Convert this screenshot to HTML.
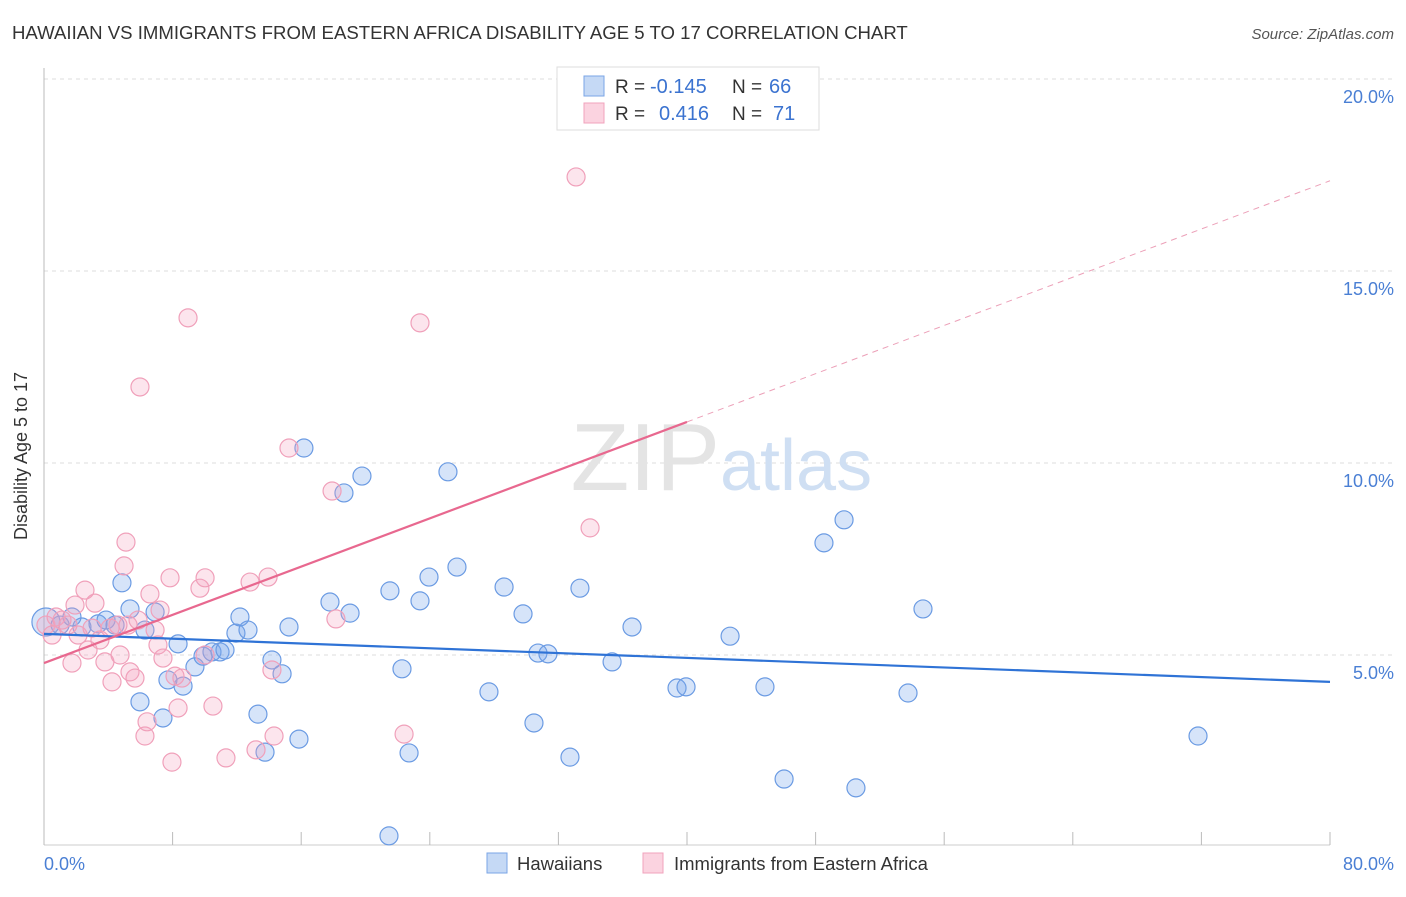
<!DOCTYPE html>
<html><head><meta charset="utf-8"><style>
body{margin:0;background:#fff;font-family:"Liberation Sans",sans-serif;}
svg text{font-family:"Liberation Sans",sans-serif;}
</style></head><body>
<svg width="1406" height="892" viewBox="0 0 1406 892">
<text x="12" y="39" font-size="18.6" fill="#333">HAWAIIAN VS IMMIGRANTS FROM EASTERN AFRICA DISABILITY AGE 5 TO 17 CORRELATION CHART</text>
<text x="1394" y="39" font-size="15" fill="#555" font-style="italic" text-anchor="end">Source: ZipAtlas.com</text>
<g id="grid"></g>
<text x="720" y="490" font-size="96" fill="#e4e4e4" text-anchor="end" font-family="Liberation Serif">ZIP</text>
<text x="720" y="490" font-size="72" fill="#cfdff3">atlas</text>
<line x1="44" y1="68" x2="44" y2="845" stroke="#bbb"/>
<line x1="44" y1="845" x2="1330" y2="845" stroke="#ccc"/>
<g id="xticks"></g>
<g id="points"></g>
<g id="trends"></g>
<text x="27" y="456" font-size="18" fill="#333" text-anchor="middle" transform="rotate(-90 27 456)">Disability Age 5 to 17</text>
<text x="44" y="870" font-size="18" fill="#4a7fd4">0.0%</text>
<text x="1394" y="870" font-size="18" fill="#4a7fd4" text-anchor="end">80.0%</text>
<g>
<rect x="557" y="67" width="262" height="63" fill="#fff" stroke="#ddd"/>
<rect x="584" y="76" width="20" height="20" fill="#c5d9f5" stroke="#7aa5e6"/>
<rect x="584" y="103" width="20" height="20" fill="#fbd3e0" stroke="#f0a3bc"/>
<text x="615" y="93" font-size="19" fill="#333">R =</text>
<text x="650" y="93" font-size="20" fill="#3b73d0">-0.145</text>
<text x="732" y="93" font-size="19" fill="#333">N =</text>
<text x="769" y="93" font-size="20" fill="#3b73d0">66</text>
<text x="615" y="120" font-size="19" fill="#333">R =</text>
<text x="659" y="120" font-size="20" fill="#3b73d0">0.416</text>
<text x="732" y="120" font-size="19" fill="#333">N =</text>
<text x="773" y="120" font-size="20" fill="#3b73d0">71</text>
</g>
<g>
<rect x="487" y="853" width="20" height="20" fill="#c5d9f5" stroke="#7aa5e6"/>
<text x="517" y="870" font-size="18.5" fill="#333">Hawaiians</text>
<rect x="643" y="853" width="20" height="20" fill="#fbd3e0" stroke="#f0a3bc"/>
<text x="674" y="870" font-size="18.5" fill="#333">Immigrants from Eastern Africa</text>
</g>
</svg>
<script>
const blueX=[0.12,1.0,1.74,2.36,3.36,3.86,4.42,4.85,5.35,5.97,6.28,6.91,7.40,7.71,8.34,8.65,9.39,9.89,10.45,10.95,11.26,11.94,12.19,12.69,13.31,13.75,14.18,14.81,15.24,15.86,16.17,17.79,18.66,19.04,19.78,21.46,21.52,22.27,22.71,23.39,23.95,25.13,25.69,27.68,28.62,29.80,30.48,30.73,31.35,32.72,33.34,35.34,36.58,39.38,39.94,42.68,44.85,46.04,48.52,49.77,50.51,53.75,54.68,71.79];
const blueY=[5.86,5.78,5.99,5.73,5.81,5.91,5.78,6.88,6.20,3.78,5.65,6.12,3.36,4.35,5.29,4.19,4.69,4.97,5.08,5.08,5.13,5.57,5.99,5.65,3.46,2.47,4.87,4.51,5.73,2.81,10.39,6.38,9.22,6.09,9.66,0.29,6.67,4.64,2.45,6.41,7.03,9.77,7.29,4.04,6.77,6.07,3.23,5.05,5.03,2.34,6.74,4.82,5.73,4.14,4.17,5.49,4.17,1.77,7.92,8.52,1.54,4.01,6.20,2.89];
const pinkX=[0.12,0.50,0.75,1.12,1.49,1.74,1.93,2.12,2.55,2.74,2.99,3.17,3.48,3.79,4.11,4.23,4.60,4.73,4.98,5.10,5.23,5.35,5.66,5.97,5.85,6.28,6.41,6.59,6.91,7.09,7.22,7.40,7.84,7.96,8.15,8.34,8.58,8.96,9.70,10.02,10.51,10.02,11.32,12.82,13.19,13.94,14.18,14.31,15.24,17.92,18.16,22.40,23.39,33.10,33.97];
const pinkY=[5.78,5.52,5.99,5.91,5.78,4.79,6.30,5.52,6.69,5.13,5.70,6.35,5.39,4.82,5.70,4.30,5.78,5.00,7.32,7.94,5.78,4.56,4.40,11.98,5.91,2.89,3.26,6.59,5.65,5.26,6.17,4.92,7.01,2.21,4.45,3.62,4.40,13.78,6.74,5.00,3.67,7.01,2.32,6.90,2.53,7.03,4.61,2.89,10.39,9.27,5.94,2.94,13.65,17.45,8.31];
const yTicks=[5,10,15,20];
const yTickLabels=["5.0%","10.0%","15.0%","20.0%"];
const xTicks=[0,8,16,24,32,40,48,56,64,72,80];
const blueTrend=[5.55,4.30];
const pinkTrend=[4.79,11.07,17.35];
const NS="http://www.w3.org/2000/svg";
const sx=v=>44+v/80*1286;
const sy=v=>847-v*38.4;
function mk(tag,attrs,parent){const e=document.createElementNS(NS,tag);for(const k in attrs)e.setAttribute(k,attrs[k]);parent.appendChild(e);return e;}
const grid=document.getElementById('grid');
yTicks.forEach((t,i)=>{
 const l=mk('line',{x1:44,x2:1394,y1:sy(t),y2:sy(t),stroke:'#ddd','stroke-dasharray':'4,4'},grid);
 
 
 const tx=mk('text',{x:1394,y:sy(t)+24,'font-size':18,fill:'#4a7fd4','text-anchor':'end'},grid);
 tx.textContent=yTickLabels[i];
 
 
});
const xt=document.getElementById('xticks');
xTicks.forEach(t=>{
 const l=mk('line',{x1:sx(t),x2:sx(t),y1:832,y2:845,stroke:'#bbb'},xt);
 
 
});
const pts=document.getElementById('points');
blueX.forEach((x,i)=>{
 const c=mk('circle',{cx:sx(x),cy:sy(blueY[i]),r:i===0?14:9,fill:'rgba(120,165,235,0.3)',stroke:'#6b9be3','stroke-width':1.2},pts);
 
 
});
pinkX.forEach((x,i)=>{
 const c=mk('circle',{cx:sx(x),cy:sy(pinkY[i]),r:9,fill:'rgba(245,160,190,0.28)',stroke:'#f0a0ba','stroke-width':1.2},pts);
 
 
});
const tr=document.getElementById('trends');
const bl=mk('line',{x1:sx(0),y1:sy(blueTrend[0]),x2:sx(80),y2:sy(blueTrend[1]),stroke:'#2f73d6','stroke-width':2.2},tr);


const pl=mk('line',{x1:sx(0),y1:sy(pinkTrend[0]),x2:sx(40),y2:sy(pinkTrend[1]),stroke:'#e8688f','stroke-width':2.2},tr);


const pd=mk('line',{x1:sx(40),y1:sy(pinkTrend[1]),x2:sx(80),y2:sy(pinkTrend[2]),stroke:'#eca0b8','stroke-width':1,'stroke-dasharray':'6,5'},tr);


</script>
</body></html>
